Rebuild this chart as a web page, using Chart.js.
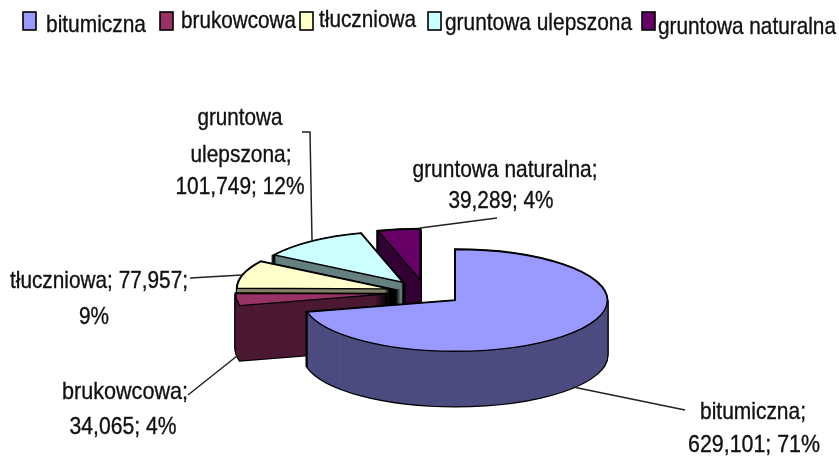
<!DOCTYPE html>
<html>
<head>
<meta charset="utf-8">
<style>html,body{margin:0;padding:0;background:#fff}canvas{display:block;filter:blur(0.65px)}</style>
<script src="https://cdn.jsdelivr.net/npm/chart.js@4/dist/chart.umd.min.js"></script>
</head>
<body>
<canvas id="c" width="839" height="459"></canvas>
<script>
const categories = ['bitumiczna', 'brukowcowa', 'tłuczniowa', 'gruntowa ulepszona', 'gruntowa naturalna'];
const values = [629101, 34065, 77957, 101749, 39289];
const valueLabels = ['629,101', '34,065', '77,957', '101,749', '39,289'];
const percents = ['71%', '4%', '9%', '12%', '4%'];
const topColors = ['#9999FF', '#993366', '#FFFFCC', '#CCFFFF', '#660066'];
const wallColors = ['#4C4C80', '#4C1933', '#808066', '#668080', '#330033'];

const SQUASH = 0.335, DEPTH = 55, EXPLODE = 38;
const FONT = '24px "Liberation Sans", Arial, sans-serif';
const TEXT = '#111111';

// Legend layout: swatch x, text x, text width, text centre y
const legendLayout = [
  {sx: 23, tx: 46, w: 100, y: 25},
  {sx: 160, tx: 181, w: 115, y: 21},
  {sx: 300, tx: 319, w: 97, y: 20},
  {sx: 428, tx: 445, w: 187, y: 23},
  {sx: 642, tx: 658, w: 178, y: 27}
];
// Data label layout: lines with centre x, centre y, width
const labelLayout = [
  [{t: i => categories[i] + ';', x: 753, y: 412, w: 106}, {t: i => valueLabels[i] + '; ' + percents[i], x: 754, y: 445, w: 132}],
  [{t: i => categories[i] + ';', x: 125, y: 392, w: 126}, {t: i => valueLabels[i] + '; ' + percents[i], x: 123, y: 427, w: 107}],
  [{t: i => categories[i] + '; ' + valueLabels[i] + ';', x: 99, y: 281, w: 178}, {t: i => percents[i], x: 94, y: 317, w: 30}],
  [{t: i => categories[i].split(' ')[0], x: 240, y: 118, w: 85}, {t: i => categories[i].split(' ')[1] + ';', x: 241, y: 155, w: 101}, {t: i => valueLabels[i] + '; ' + percents[i], x: 240, y: 187, w: 129}],
  [{t: i => categories[i] + ';', x: 505, y: 170, w: 185}, {t: i => valueLabels[i] + '; ' + percents[i], x: 501, y: 201, w: 105}]
];
const leaders = [
  [[573, 387], [685, 410]],
  [[188, 395], [237, 356]],
  [[190, 278], [242, 275]],
  [[302, 132], [310, 132], [312, 240]],
  [[420, 228], [497, 218]]
];

function fitText(ctx, s, cx, cy, w) {
  ctx.save();
  ctx.font = FONT;
  ctx.textAlign = 'center';
  ctx.textBaseline = 'middle';
  ctx.fillStyle = TEXT;
  ctx.strokeStyle = TEXT;
  ctx.lineWidth = 0.35;
  const m = ctx.measureText(s).width;
  ctx.translate(cx, cy);
  ctx.scale(w / m, 1);
  ctx.fillText(s, 0, 0);
  ctx.strokeText(s, 0, 0);
  ctx.restore();
}

const pie3d = {
  id: 'pie3d',
  beforeDatasetsDraw(chart) {
    const ctx = chart.ctx;
    const arcs = chart.getDatasetMeta(0).data;
    const path = (arc, dy) => {
      const p = arc.getProps(['x', 'y', 'startAngle', 'endAngle', 'outerRadius']);
      const mid = (p.startAngle + p.endAngle) / 2;
      const d = arc.options.offset / 4;
      const ox = Math.cos(mid) * d, oy = Math.sin(mid) * d;
      ctx.save();
      ctx.translate(p.x, p.y + dy);
      ctx.scale(1, SQUASH);
      ctx.beginPath();
      ctx.moveTo(ox, oy);
      ctx.arc(ox, oy, p.outerRadius, p.startAngle, p.endAngle);
      ctx.closePath();
      ctx.restore();
    };
    ctx.save();
    ctx.lineJoin = 'miter';
    for (let i = arcs.length - 1; i >= 0; i--) {
      const arc = arcs[i];
      ctx.strokeStyle = '#000';
      ctx.lineWidth = 2.4;
      for (let y = DEPTH; y >= 0; y--) { path(arc, y); ctx.stroke(); }
      ctx.fillStyle = wallColors[i];
      for (let y = DEPTH; y >= 1; y--) { path(arc, y); ctx.fill(); }
      ctx.lineWidth = 1.4;
      path(arc, 0);
      ctx.fillStyle = topColors[i];
      ctx.fill();
      ctx.stroke();
    }
    ctx.restore();
    return false;
  },
  afterDraw(chart) {
    const ctx = chart.ctx;
    ctx.save();
    // legend
    categories.forEach((name, i) => {
      const l = legendLayout[i];
      ctx.fillStyle = topColors[i];
      ctx.strokeStyle = '#000';
      ctx.lineWidth = 1.6;
      ctx.fillRect(l.sx, 12, 13, 18);
      ctx.strokeRect(l.sx, 12, 13, 18);
      fitText(ctx, name, l.tx + l.w / 2, l.y, l.w);
    });
    // leader lines
    ctx.strokeStyle = '#222';
    ctx.lineWidth = 1.5;
    leaders.forEach(pts => {
      ctx.beginPath();
      pts.forEach((q, j) => j ? ctx.lineTo(q[0], q[1]) : ctx.moveTo(q[0], q[1]));
      ctx.stroke();
    });
    // data labels
    labelLayout.forEach((lines, i) => lines.forEach(l => fitText(ctx, l.t(i), l.x, l.y, l.w)));
    ctx.restore();
  }
};

new Chart(document.getElementById('c'), {
  type: 'pie',
  data: {
    labels: categories,
    datasets: [{
      data: values,
      backgroundColor: topColors,
      borderColor: '#000',
      borderWidth: 1,
      offset: EXPLODE * 4,
      clip: false
    }]
  },
  options: {
    responsive: false,
    animation: false,
    radius: 152,
    layout: {padding: {left: 12, top: 126}},
    plugins: {legend: {display: false}, tooltip: {enabled: false}, title: {display: false}}
  },
  plugins: [pie3d]
});
</script>
</body>
</html>
